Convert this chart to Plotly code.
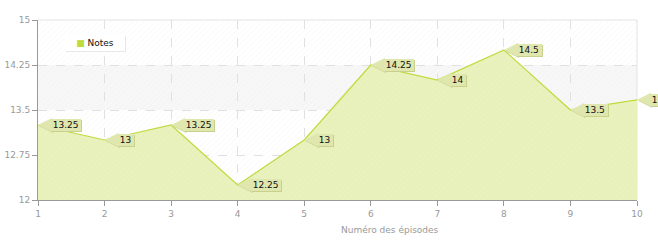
import plotly.graph_objects as go

episodes = [1, 2, 3, 4, 5, 6, 7, 8, 9, 10]
notes = [13.25, 13, 13.25, 12.25, 13, 14.25, 14, 14.5, 13.5, 13.67]
label_texts = ["13.25", "13", "13.25", "12.25", "13", "14.25", "14", "14.5", "13.5", "13.67"]
y_ticks = [12, 12.75, 13.5, 14.25, 15]
y_tick_text = ["12", "12.75", "13.5", "14.25", "15"]
series_name = "Notes"
x_title = "Numéro des épisodes"

Y_MIN, Y_MAX = 12, 15
X_MIN, X_MAX = 1, 10

LINE = "#bfdb3c"
BOX = "#dfe6ae"
BOX_SHADOW = "#c9d08e"
GRAY = "#999999"
FONT = "DejaVu Sans"

fig = go.Figure()

# background hatch over the plot area
fig.add_trace(go.Scatter(
    x=[X_MIN, X_MAX, X_MAX, X_MIN, X_MIN], y=[Y_MIN, Y_MIN, Y_MAX, Y_MAX, Y_MIN],
    mode="lines", line=dict(width=0), fill="toself", fillcolor="rgba(255,255,255,0)",
    fillpattern=dict(shape="/", fgcolor="#ebebeb", bgcolor="rgba(255,255,255,0)", size=4, solidity=0.15),
    hoverinfo="skip", showlegend=False))

# area
fig.add_trace(go.Scatter(
    x=episodes, y=notes, mode="lines", line=dict(color=LINE, width=1.2),
    fill="tozeroy",
    fillpattern=dict(shape="/", fgcolor="rgba(200,215,130,0.35)", bgcolor="#e9f1bd", size=4, solidity=0.15),
    showlegend=False, hoverinfo="skip", name=series_name))

shapes = [
    dict(type="rect", xref="paper", yref="y", x0=0, x1=1, y0=13.5, y1=14.25,
         fillcolor="#f7f7f7", line=dict(width=0), layer="below"),
    dict(type="line", xref="paper", yref="paper", x0=0, x1=1, y0=1, y1=1,
         line=dict(color="#e3e3e3", width=1), layer="below"),
    dict(type="line", xref="paper", yref="paper", x0=1, x1=1, y0=0, y1=1,
         line=dict(color="#e3e3e3", width=1), layer="below"),
]

annotations = []
for xv, yv, t in zip(episodes, notes, label_texts):
    padded = "&#8201;" + t + "&#8201;"
    # shadow
    annotations.append(dict(
        x=xv, y=yv, xref="x", yref="y", text=padded, showarrow=True,
        ax=12, ay=0, xanchor="left", yanchor="middle", xshift=1, yshift=-1,
        arrowhead=2, arrowsize=2.8, arrowwidth=1, arrowcolor=BOX_SHADOW, standoff=0,
        bgcolor=BOX_SHADOW, borderpad=1, borderwidth=0,
        font=dict(family=FONT, size=9, color=BOX_SHADOW)))
    annotations.append(dict(
        x=xv, y=yv, xref="x", yref="y", text=padded, showarrow=True,
        ax=12, ay=0, xanchor="left", yanchor="middle",
        arrowhead=2, arrowsize=2.8, arrowwidth=1, arrowcolor=BOX, standoff=0,
        bgcolor=BOX, borderpad=1, borderwidth=0,
        font=dict(family=FONT, size=9, color="#111111")))

# legend (compact box)
legend_text = "<span style='color:%s'>■</span> %s" % (LINE, series_name)
annotations.append(dict(x=0.045, y=0.917, xref="paper", yref="paper", text=legend_text,
                        showarrow=False, xanchor="left", yanchor="top", xshift=1, yshift=-1,
                        width=60, height=16, align="center",
                        bgcolor="#e8e8e8", borderpad=0, borderwidth=0,
                        font=dict(family=FONT, size=9, color="#e8e8e8")))
annotations.append(dict(x=0.045, y=0.917, xref="paper", yref="paper", text=legend_text,
                        showarrow=False, xanchor="left", yanchor="top",
                        width=60, height=16, align="center",
                        bgcolor="white", borderpad=0, borderwidth=0,
                        font=dict(family=FONT, size=9, color="#111111")))

annotations.append(dict(x=0.588, y=0, xref="paper", yref="paper", yshift=-23,
                        text=x_title, showarrow=False, xanchor="center", yanchor="top",
                        font=dict(family=FONT, size=9, color=GRAY)))

fig.update_layout(
    width=658, height=240,
    margin=dict(l=38, r=21, t=20, b=40),
    paper_bgcolor="white", plot_bgcolor="white",
    font=dict(family=FONT, size=9, color=GRAY),
    shapes=shapes, annotations=annotations,
    showlegend=False,
    xaxis=dict(range=[X_MIN, X_MAX], tickvals=episodes, ticks="outside", ticklen=5,
               tickcolor=GRAY, showline=True, linecolor=GRAY, linewidth=1,
               showgrid=True, gridcolor="#e0e0e0", griddash="dash", zeroline=False,
               automargin=False,
               tickfont=dict(family=FONT, size=9, color=GRAY)),
    yaxis=dict(range=[Y_MIN, Y_MAX], tickvals=y_ticks, ticktext=y_tick_text,
               ticks="outside", ticklen=5, tickcolor=GRAY,
               showline=True, linecolor=GRAY, linewidth=1,
               showgrid=True, gridcolor="#e0e0e0", griddash="dash", zeroline=False,
               automargin=False,
               tickfont=dict(family=FONT, size=9, color=GRAY)),
)

fig.write_html("out.html")
